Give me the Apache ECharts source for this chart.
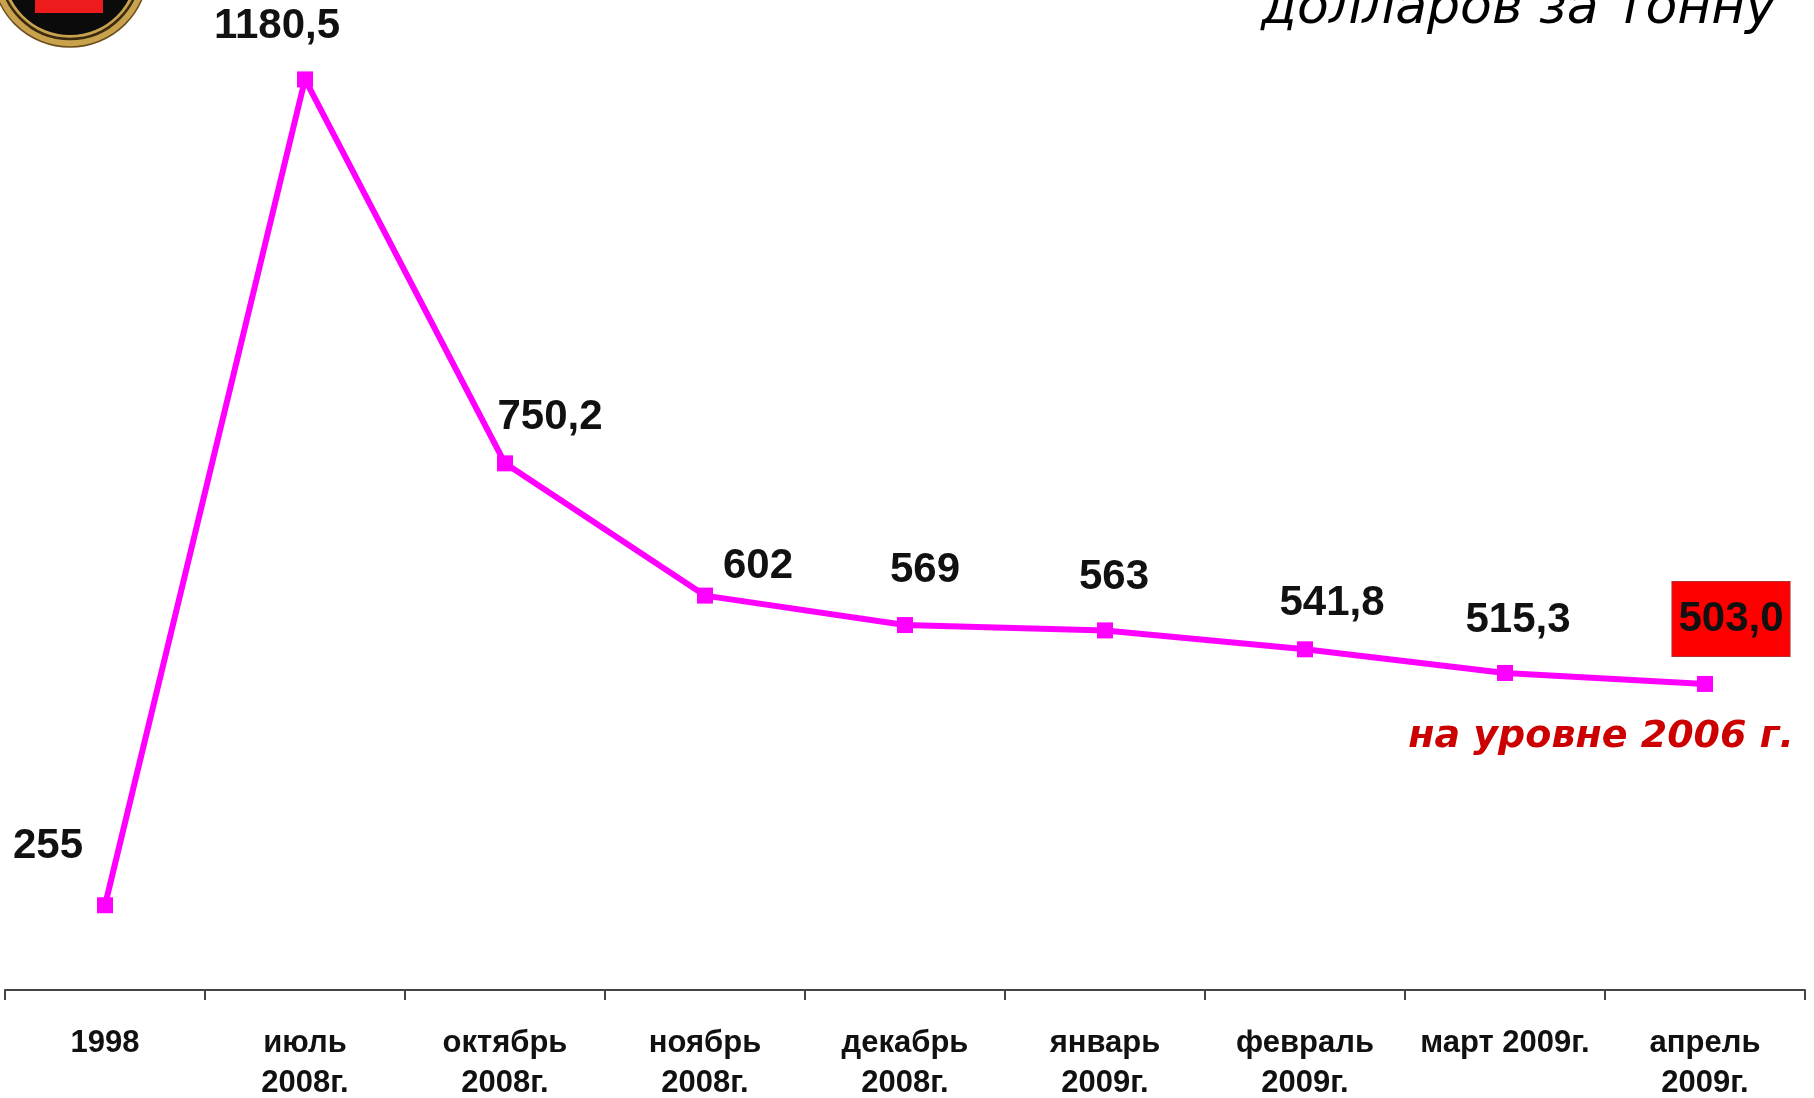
<!DOCTYPE html>
<html>
<head>
<meta charset="utf-8">
<script src="https://cdn.jsdelivr.net/npm/echarts@6/dist/echarts.min.js"></script>
<style>
  html, body { margin: 0; padding: 0; background: #fff; }
  #main { width: 1814px; height: 1098px; }
</style>
</head>
<body>
<div id="main"></div>
<script>
// категории по оси X
var categories = ['1998', 'июль\n2008г.', 'октябрь\n2008г.', 'ноябрь\n2008г.', 'декабрь\n2008г.',
  'январь\n2009г.', 'февраль\n2009г.', 'март 2009г.', 'апрель\n2009г.'];
// цена, долларов за тонну
var prices = [255, 1180.5, 750.2, 602, 569, 563, 541.8, 515.3, 503.0];
// подписи точек как на слайде
var priceLabels = ['255', '1180,5', '750,2', '602', '569', '563', '541,8', '515,3', '503,0'];
// сдвиг подписи относительно точки
var labelOffsets = [[-57, -59], [-28, -53], [45, -46], [53, -29], [20, -55], [9, -53], [27, -46], [13, -53], [26, -65]];
var highlightIdx = 8;

var chart = echarts.init(document.getElementById('main'));

var seriesData = prices.map(function (v, i) {
  var item = { value: v, label: { offset: labelOffsets[i] } };
  if (i === highlightIdx) {
    item.label.backgroundColor = '#ff0000';
    item.label.borderColor = '#b03030';
    item.label.borderWidth = 1;
    item.label.padding = [18, 6, 14, 6];
  }
  return item;
});

chart.setOption({
  animation: false,
  backgroundColor: '#ffffff',
  grid: {
    left: 5,
    right: 9,
    top: 62,
    bottom: 108,
    containLabel: false,
    outerBoundsMode: 'none'
  },
  xAxis: {
    type: 'category',
    data: categories,
    boundaryGap: true,
    axisLine: {
      lineStyle: { color: '#444', width: 2 }
    },
    axisTick: {
      show: true,
      interval: 0,
      length: 10,
      lineStyle: { color: '#444', width: 2 }
    },
    axisLabel: {
      interval: 0,
      margin: 33,
      color: '#111',
      fontFamily: 'Liberation Sans',
      fontWeight: 'bold',
      fontSize: 31,
      lineHeight: 40
    }
  },
  yAxis: {
    type: 'value',
    min: 160,
    max: 1200,
    show: false,
    splitLine: { show: false }
  },
  series: [
    {
      type: 'line',
      data: seriesData,
      symbol: 'rect',
      symbolSize: 16,
      itemStyle: { color: '#ff00ff' },
      lineStyle: { color: '#ff00ff', width: 6 },
      label: {
        show: true,
        position: 'inside',
        align: 'center',
        verticalAlign: 'middle',
        color: '#111',
        fontFamily: 'Liberation Sans',
        fontWeight: 'bold',
        fontSize: 42,
        formatter: function (p) { return priceLabels[p.dataIndex]; }
      }
    }
  ],
  graphic: [
    // эмблема в левом верхнем углу (обрезана)
    {
      type: 'group',
      x: 70,
      y: -31,
      silent: true,
      children: [
        { type: 'circle', shape: { cx: 0, cy: 0, r: 78 }, style: { fill: '#c9a24e', stroke: '#6b4e1a', lineWidth: 1.5 } },
        { type: 'circle', shape: { cx: 0, cy: 0, r: 70 }, style: { fill: 'none', stroke: '#3a2a10', lineWidth: 2.5 } },
        { type: 'circle', shape: { cx: 0, cy: 0, r: 66 }, style: { fill: '#0b0b0b' } },
        { type: 'rect', shape: { x: -35, y: 0, width: 68, height: 44 }, style: { fill: '#ee1c1c' } }
      ]
    },
    {
      type: 'text',
      x: 1776,
      y: 9,
      silent: true,
      style: {
        text: 'долларов за тонну',
        fontFamily: 'DejaVu Sans',
        fontStyle: 'italic',
        fontSize: 52,
        fill: '#000',
        align: 'right',
        verticalAlign: 'middle'
      }
    },
    {
      type: 'text',
      x: 1794,
      y: 737,
      silent: true,
      style: {
        text: 'на уровне 2006 г.',
        fontFamily: 'DejaVu Sans',
        fontStyle: 'italic',
        fontWeight: 'bold',
        fontSize: 38,
        fill: '#cc0000',
        align: 'right',
        verticalAlign: 'middle'
      }
    }
  ]
});
</script>
</body>
</html>
